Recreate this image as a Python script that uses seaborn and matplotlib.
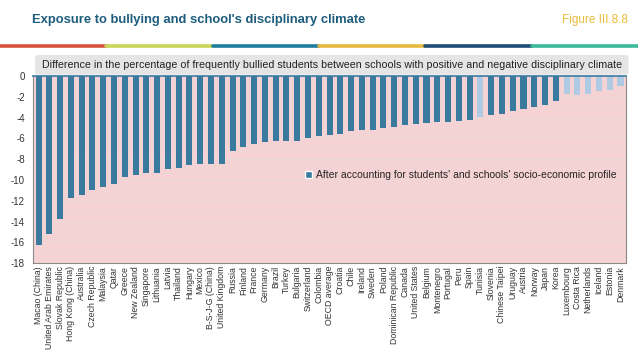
import numpy as np
import pandas as pd
import matplotlib
matplotlib.use("Agg")
import matplotlib.pyplot as plt
import seaborn as sns
from matplotlib.patches import Patch, FancyBboxPatch

# =============================================================================
# DATA
# =============================================================================

countries = [
    "Macao (China)", "United Arab Emirates", "Slovak Republic", "Hong Kong (China)",
    "Australia", "Czech Republic", "Malaysia", "Qatar", "Greece", "New Zealand",
    "Singapore", "Lithuania", "Latvia", "Thailand", "Hungary", "Mexico",
    "B-S-J-G (China)", "United Kingdom", "Russia", "Finland", "France", "Germany",
    "Brazil", "Turkey", "Bulgaria", "Switzerland", "Colombia", "OECD average",
    "Croatia", "Chile", "Ireland", "Sweden", "Poland", "Dominican Republic",
    "Canada", "United States", "Belgium", "Montenegro", "Portugal", "Peru",
    "Spain", "Tunisia", "Slovenia", "Chinese Taipei", "Uruguay", "Austria",
    "Norway", "Japan", "Korea", "Luxembourg", "Costa Rica", "Netherlands",
    "Iceland", "Estonia", "Denmark",
]

difference = [
    -16.25, -15.2, -13.75, -11.7, -11.4, -11.0, -10.7, -10.4, -9.7, -9.5,
    -9.35, -9.35, -8.95, -8.8, -8.6, -8.5, -8.5, -8.5, -7.2, -6.8,
    -6.55, -6.35, -6.25, -6.2, -6.2, -6.0, -5.8, -5.7, -5.6, -5.3,
    -5.15, -5.15, -5.0, -4.9, -4.7, -4.6, -4.5, -4.45, -4.45, -4.35,
    -4.2, -3.9, -3.75, -3.6, -3.4, -3.15, -3.0, -2.8, -2.4, -1.75,
    -1.8, -1.75, -1.4, -1.3, -0.95,
]

# not significant -> lighter bars
not_significant = [
    "Tunisia", "Luxembourg", "Costa Rica", "Netherlands",
    "Iceland", "Estonia", "Denmark",
]

y_ticks = list(range(-18, 1, 2))

title = "Exposure to bullying and school's disciplinary climate"
figure_label = "Figure III.8.8"
subtitle = ("Difference in the percentage of frequently bullied students between "
            "schools with positive and negative disciplinary climate")
legend_label = "After accounting for students' and schools' socio-economic profile"

# =============================================================================
# STYLE
# =============================================================================

dark_blue = "#3A7A9E"
light_blue = "#AECBE3"
pink_bg = "#F5D2D3"
title_color = "#1D5C7C"
gold = "#E8BC3A"
stripe_colors = ["#D9503F", "#C9D557", "#1F7C9C", "#E7B93D", "#1E4E78", "#3DB99B"]

sns.set_style("white")
plt.rcParams["font.family"] = ["Liberation Sans", "DejaVu Sans"]

df = pd.DataFrame({"country": countries, "value": difference})
bar_colors = [light_blue if c in not_significant else dark_blue for c in countries]

# =============================================================================
# FIGURE
# =============================================================================

fig = plt.figure(figsize=(6.38, 3.59), dpi=100)
ax = fig.add_axes([0.052, 0.267, 0.929, 0.521])
ax.set_facecolor(pink_bg)

sns.barplot(
    data=df,
    x="country",
    y="value",
    hue="country",
    palette=bar_colors,
    width=0.56,
    legend=False,
    saturation=1,
    linewidth=0,
    ax=ax
)

ax.set_ylim(-18, 0)
ax.set_xlim(-0.5, len(countries) - 0.5)
ax.set_yticks(y_ticks)
ax.set_yticklabels([str(t) for t in y_ticks], fontsize=7, color="#333333")
ax.yaxis.grid(True, color="#EBDADA", linewidth=0.8)
ax.set_axisbelow(True)
ax.tick_params(axis="y", length=0, pad=6)
ax.tick_params(axis="x", length=0, pad=2)
ax.set_xticks(range(len(countries)))
ax.set_xticklabels(countries, rotation=90, fontsize=6.3, color="#333333")
ax.set_xlabel("")
ax.set_ylabel("")

for side in ["left", "bottom", "right"]:
    ax.spines[side].set_color("#8A8A8A")
    ax.spines[side].set_linewidth(0.8)
ax.spines["top"].set_color(dark_blue)
ax.spines["top"].set_linewidth(1.2)

ax.legend(
    handles=[Patch(facecolor=dark_blue, label=legend_label)],
    loc="center right",
    bbox_to_anchor=(1.0, 0.47),
    frameon=False,
    fontsize=7.5,
    handlelength=0.6,
    handleheight=0.6,
    handletextpad=0.4
)

# =============================================================================
# HEADER
# =============================================================================

fig.text(0.05, 0.944, title, fontsize=9.4, fontweight="bold",
         color=title_color, va="center", ha="left")
fig.text(0.984, 0.944, figure_label, fontsize=8.5, color=gold,
         va="center", ha="right")

# colored stripe
n_stripes = len(stripe_colors)
for i, c in enumerate(stripe_colors):
    fig.add_artist(plt.Line2D([i / n_stripes, (i + 1) / n_stripes], [0.872, 0.872],
                              color=c, linewidth=2.6, transform=fig.transFigure))

# subtitle box
box = FancyBboxPatch((0.055, 0.792), 0.93, 0.055,
                     boxstyle="round,pad=0,rounding_size=0.006",
                     transform=fig.transFigure, facecolor="#E5E5E5",
                     edgecolor="none")
fig.add_artist(box)
fig.text(0.52, 0.819, subtitle, fontsize=7.7, color="#222222",
         ha="center", va="center")

fig.savefig("out.png", dpi=100)
plt.close()
